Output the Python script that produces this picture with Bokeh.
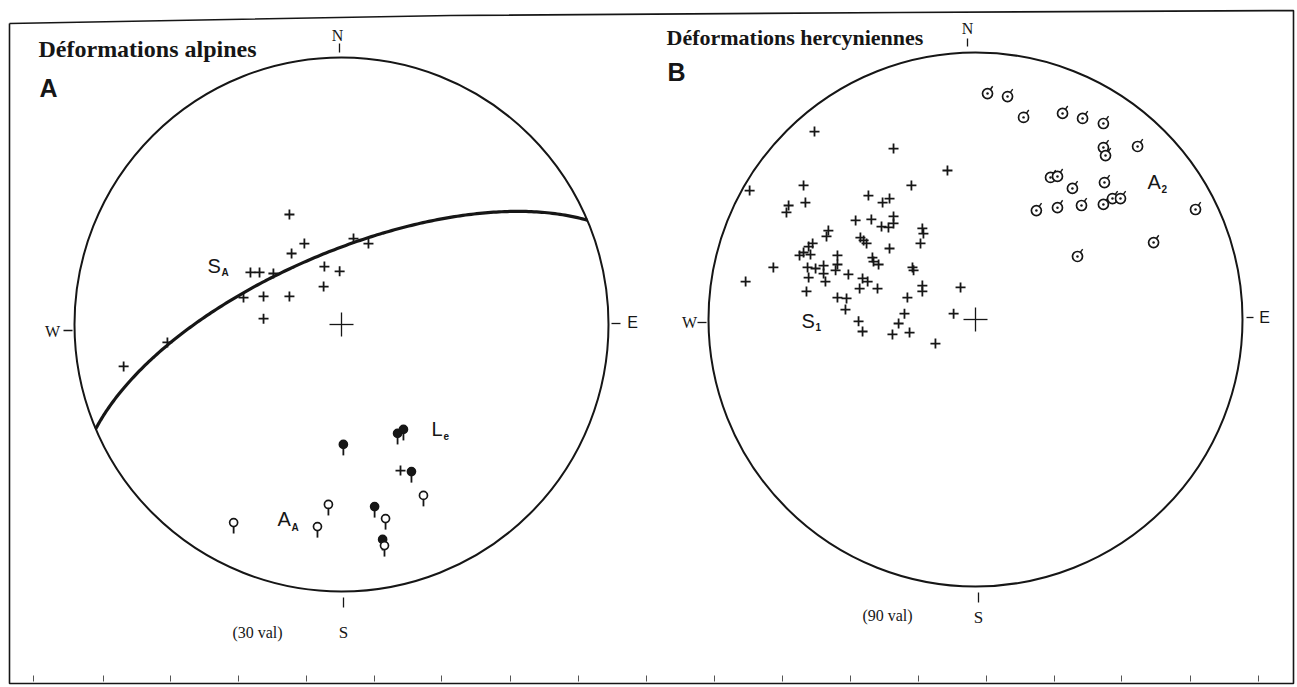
import numpy as np
from bokeh.plotting import figure
from bokeh.models import Range1d
from bokeh.core.properties import value
from bokeh.embed import file_html
from bokeh.resources import INLINE

# ---------------- DATA (unit-radius stereonet coordinates: east, north) ----------------
# Net A  (Déformations alpines, 30 val)
SA_east = [-0.195, -0.139, -0.187, -0.341, -0.307, -0.255, -0.064, -0.007, -0.067, -0.292,
           -0.195, -0.367, -0.292, 0.045, 0.101, -0.652, -0.816, 0.221]
SA_north = [0.412, 0.303, 0.266, 0.195, 0.195, 0.191, 0.217, 0.199, 0.142, 0.105,
            0.105, 0.101, 0.022, 0.322, 0.303, -0.067, -0.157, -0.547]
Le_east = [0.007, 0.210, 0.232, 0.262, 0.124, 0.154]
Le_north = [-0.449, -0.408, -0.393, -0.551, -0.682, -0.805]
AA_east = [-0.404, -0.049, -0.090, 0.165, 0.307, 0.161]
AA_north = [-0.742, -0.674, -0.757, -0.727, -0.640, -0.828]
plane_dipdir = 337.0   # great circle drawn on net A
plane_dip = 68.0

# Net B  (Déformations hercyniennes, 90 val)
A2_east = [0.045, 0.120, 0.180, 0.326, 0.401, 0.479, 0.479, 0.487, 0.607, 0.281, 0.307,
           0.363, 0.483, 0.228, 0.307, 0.397, 0.479, 0.513, 0.543, 0.824, 0.667, 0.382]
A2_north = [0.846, 0.835, 0.757, 0.772, 0.753, 0.734, 0.644, 0.614, 0.648, 0.532, 0.536,
            0.491, 0.513, 0.408, 0.419, 0.427, 0.431, 0.453, 0.453, 0.412, 0.288, 0.236]
S1_east = [-0.603, -0.307, -0.105, -0.846, -0.644, -0.240, -0.700, -0.708, -0.637, -0.401,
           -0.348, -0.322, -0.307, -0.307, -0.449, -0.390, -0.352, -0.326, -0.199, -0.195,
           -0.206, -0.551, -0.558, -0.431, -0.419, -0.408, -0.610, -0.625, -0.659, -0.644,
           -0.618, -0.322, -0.517, -0.386, -0.382, -0.363, -0.757, -0.629, -0.599, -0.569,
           -0.517, -0.524, -0.236, -0.232, -0.861, -0.625, -0.569, -0.562, -0.476, -0.423,
           -0.404, -0.434, -0.367, -0.199, -0.199, -0.056, -0.633, -0.517, -0.483, -0.255,
           -0.487, -0.266, -0.288, -0.438, -0.423, -0.311, -0.247, -0.082, -0.150]
S1_north = [0.704, 0.640, 0.558, 0.483, 0.502, 0.502, 0.427, 0.401, 0.438, 0.464,
            0.438, 0.453, 0.386, 0.360, 0.371, 0.375, 0.348, 0.345, 0.341, 0.322,
            0.285, 0.333, 0.311, 0.307, 0.296, 0.285, 0.285, 0.273, 0.240, 0.251,
            0.243, 0.266, 0.240, 0.232, 0.217, 0.206, 0.195, 0.195, 0.191, 0.202,
            0.206, 0.184, 0.195, 0.184, 0.142, 0.157, 0.172, 0.142, 0.169, 0.154,
            0.142, 0.116, 0.116, 0.127, 0.105, 0.120, 0.105, 0.082, 0.079, 0.082,
            0.037, 0.022, -0.015, -0.007, -0.045, -0.056, -0.049, 0.022, -0.090]

titles = ["Déformations alpines", "Déformations hercyniennes"]
panel_letters = ["A", "B"]
counts = ["(30 val)", "(90 val)"]

# ---------------- LAYOUT ----------------
R = 267.0                 # pixels per unit radius
CX, CY = 341.0, 324.0     # page position of net A centre


def P(x, y):
    """page pixel -> data coords"""
    return (x - CX) / R, (CY - y) / R


px = 1.0 / R
netA = (0.0, 0.0)
netB = P(975, 319)
INK = "#161616"

W, H = 1297, 687
x0, y1 = P(0, 0)
x1, y0 = P(W, H)
p = figure(width=W, height=H, x_range=Range1d(x0, x1), y_range=Range1d(y0, y1),
           output_backend="svg", toolbar_location=None, x_axis_type=None, y_axis_type=None,
           min_border=0, background_fill_color="white", border_fill_color="white")
p.outline_line_color = None
p.grid.visible = False

# frame (scanned page border)
fx, fy = zip(*[P(9, 23), P(450, 15), P(900, 12), P(1293, 10), P(1293, 683), P(9, 683), P(9, 23)])
p.line(list(fx), list(fy), line_color=INK, line_width=1.6)
# ruler ticks at bottom
RULER_X = [33, 103, 170, 238, 306, 374, 441, 510, 578, 646, 714, 782, 850, 918, 986, 1054, 1121, 1190, 1258]
rx = [P(x, 0)[0] for x in RULER_X]
p.segment(x0=rx, y0=[P(0, 681)[1]] * len(rx), x1=rx, y1=[P(0, 675)[1]] * len(rx),
          line_color="#555555", line_width=1)

# primitive circles
p.circle(x=[netA[0], netB[0]], y=[netA[1], netB[1]], radius=1.0, fill_color=None,
         line_color=INK, line_width=2)
# centre crosses
for cx, cy in (netA, netB):
    p.segment(x0=[cx - 12 * px, cx], y0=[cy, cy - 12 * px], x1=[cx + 12 * px, cx], y1=[cy, cy + 12 * px],
              line_color=INK, line_width=1.3)

# great circle (equal-area, lower hemisphere)
dd = np.radians(plane_dipdir)
dip = np.radians(plane_dip)
st = dd - np.pi / 2
t = np.linspace(0, np.pi, 200)
S = np.array([np.sin(st), np.cos(st), 0.0])
D = np.array([np.sin(dd) * np.cos(dip), np.cos(dd) * np.cos(dip), np.sin(dip)])
v = np.outer(np.cos(t), S) + np.outer(np.sin(t), D)
plunge = np.arcsin(np.clip(v[:, 2], -1, 1))
trend = np.arctan2(v[:, 0], v[:, 1])
rho = np.sqrt(2) * np.sin((np.pi / 2 - plunge) / 2)
p.line(netA[0] + rho * np.sin(trend), netA[1] + rho * np.cos(trend), line_color=INK, line_width=3.2)

# S_A crosses
p.scatter(x=np.array(SA_east) + netA[0], y=np.array(SA_north) + netA[1], marker="cross",
          size=10, line_color=INK, line_width=1.8)
# lollipops (L_e filled, A_A open)
for ee, nn, fill in ((Le_east, Le_north, INK), (AA_east, AA_north, "white")):
    xe = np.array(ee) + netA[0]
    yn = np.array(nn) + netA[1]
    p.segment(x0=xe, y0=yn - 4 * px, x1=xe, y1=yn - 11 * px, line_color=INK, line_width=1.8)
    p.scatter(x=xe, y=yn, marker="circle", size=8, fill_color=fill, line_color=INK, line_width=1.7)

# S1 crosses
p.scatter(x=np.array(S1_east) + netB[0], y=np.array(S1_north) + netB[1], marker="cross",
          size=10, line_color=INK, line_width=1.8)
# A2 symbols
xa = np.array(A2_east) + netB[0]
ya = np.array(A2_north) + netB[1]
ang = np.radians(55)
p.segment(x0=xa + 5 * px * np.cos(ang), y0=ya + 5 * px * np.sin(ang),
          x1=xa + 9 * px * np.cos(ang), y1=ya + 9 * px * np.sin(ang), line_color=INK, line_width=1.4)
p.scatter(x=xa, y=ya, marker="circle", size=10, fill_color="white", line_color=INK, line_width=1.7)
p.scatter(x=xa, y=ya, marker="circle", size=2.5, fill_color=INK, line_color=None)

# direction ticks
ticks = [((339, 43), (339, 52)), ((967, 38), (967, 46)), ((343, 597), (343, 607)), ((978, 592), (978, 602)),
         ((63, 330), (72, 330)), ((611, 323), (620, 323)), ((697, 322), (706, 322)), ((1246, 317), (1253, 317))]
p.segment(x0=[P(*a)[0] for a, b in ticks], y0=[P(*a)[1] for a, b in ticks],
          x1=[P(*b)[0] for a, b in ticks], y1=[P(*b)[1] for a, b in ticks], line_color=INK, line_width=1.3)


def txt(label, x, y, size, font="Liberation Serif", style="normal", align="center", baseline="middle"):
    X, Y = P(x, y)
    p.text(x=[X], y=[Y], text=[label], text_font=value(font), text_font_size=f"{size}px",
           text_font_style=style, text_align=align, text_baseline=baseline, text_color=INK)


# titles & panel letters
txt(titles[0], 38, 48, 24, style="bold", align="left", baseline="alphabetic")
txt(titles[1], 666, 37, 22, style="bold", align="left", baseline="alphabetic")
txt(panel_letters[0], 39, 87, 25, font="Liberation Sans", style="bold", align="left", baseline="alphabetic")
txt(panel_letters[1], 667, 71, 25, font="Liberation Sans", style="bold", align="left", baseline="alphabetic")

# compass letters
txt("N", 337, 35, 16)
txt("N", 967, 28, 16)
txt("S", 343, 632, 17)
txt("S", 978, 617, 17)
txt("W", 52, 331, 16)
txt("W", 689, 322, 16)
txt("E", 632, 322, 16, font="Liberation Sans")
txt("E", 1264, 317, 16, font="Liberation Sans")
txt(counts[0], 257, 632, 16)
txt(counts[1], 887, 615, 16)

# set labels with subscripts
for main, sub, (mx, my), (sx, sy) in (("S", "A", (207, 265), (221, 272)),
                                      ("A", "A", (277, 518), (291, 527)),
                                      ("L", "e", (431, 428), (443, 435)),
                                      ("S", "1", (801, 320), (815, 326)),
                                      ("A", "2", (1147, 181), (1161, 188))):
    txt(main, mx, my, 20, font="Liberation Sans", align="left")
    txt(sub, sx, sy, 10, font="Liberation Sans", style="bold", align="left")

open("out.html", "w").write(file_html(p, INLINE))
